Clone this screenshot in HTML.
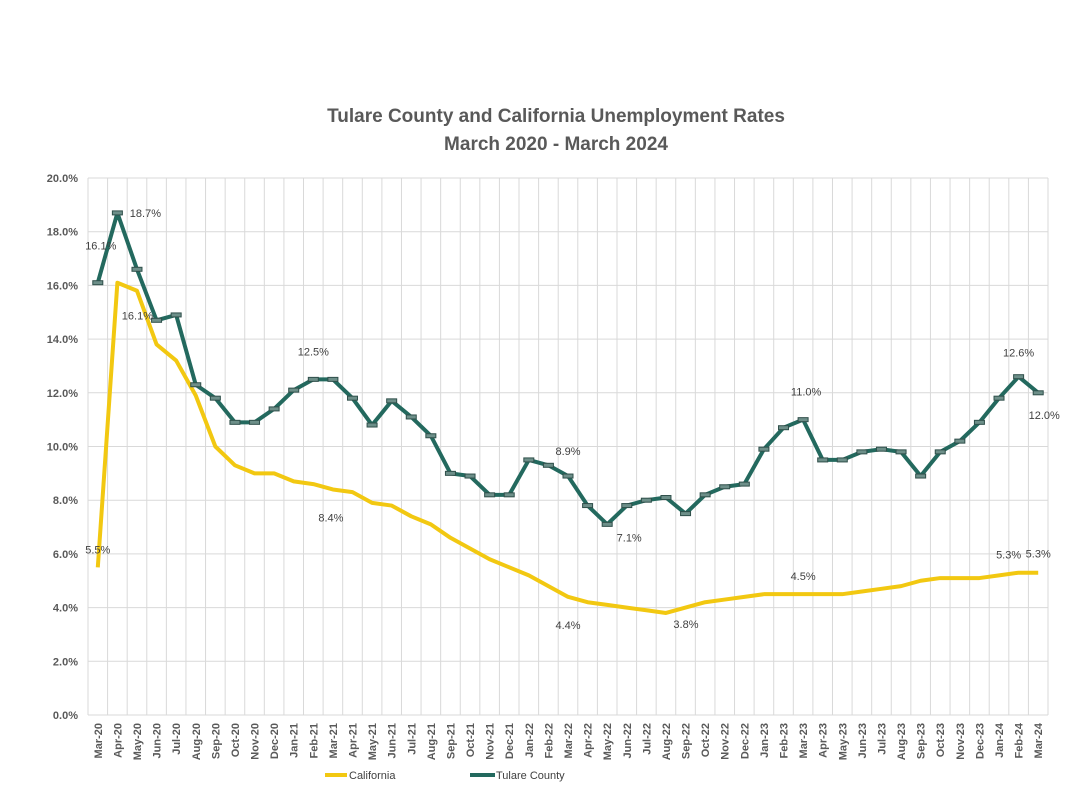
<!DOCTYPE html>
<html><head><meta charset="utf-8"><style>
body{margin:0;background:#fff;}
svg text{font-family:"Liberation Sans",sans-serif;}
</style></head><body>
<svg id="c" width="1069" height="784" xmlns="http://www.w3.org/2000/svg">
<text x="556" y="122" text-anchor="middle" font-size="19" font-weight="bold" fill="#595959">Tulare County and California Unemployment Rates</text>
<text x="556" y="150" text-anchor="middle" font-size="19" font-weight="bold" fill="#595959">March 2020 - March 2024</text>
<g id="grid"></g><g id="axes"></g><g id="series"></g><g id="labels"></g>
<g>
<line x1="325" y1="775" x2="347" y2="775" stroke="#F2C811" stroke-width="4"/>
<text x="349" y="779" font-size="11" fill="#404040">California</text>
<line x1="470" y1="775" x2="495" y2="775" stroke="#23695E" stroke-width="4"/>
<text x="496" y="779" font-size="11" fill="#404040">Tulare County</text>
</g>
</svg>
<script>
const months=["Mar-20","Apr-20","May-20","Jun-20","Jul-20","Aug-20","Sep-20","Oct-20","Nov-20","Dec-20","Jan-21","Feb-21","Mar-21","Apr-21","May-21","Jun-21","Jul-21","Aug-21","Sep-21","Oct-21","Nov-21","Dec-21","Jan-22","Feb-22","Mar-22","Apr-22","May-22","Jun-22","Jul-22","Aug-22","Sep-22","Oct-22","Nov-22","Dec-22","Jan-23","Feb-23","Mar-23","Apr-23","May-23","Jun-23","Jul-23","Aug-23","Sep-23","Oct-23","Nov-23","Dec-23","Jan-24","Feb-24","Mar-24"];
const tulare=[16.1,18.7,16.6,14.7,14.9,12.3,11.8,10.9,10.9,11.4,12.1,12.5,12.5,11.8,10.8,11.7,11.1,10.4,9.0,8.9,8.2,8.2,9.5,9.3,8.9,7.8,7.1,7.8,8.0,8.1,7.5,8.2,8.5,8.6,9.9,10.7,11.0,9.5,9.5,9.8,9.9,9.8,8.9,9.8,10.2,10.9,11.8,12.6,12.0];
const california=[5.5,16.1,15.8,13.8,13.2,11.9,10.0,9.3,9.0,9.0,8.7,8.6,8.4,8.3,7.9,7.8,7.4,7.1,6.6,6.2,5.8,5.5,5.2,4.8,4.4,4.2,4.1,4.0,3.9,3.8,4.0,4.2,4.3,4.4,4.5,4.5,4.5,4.5,4.5,4.6,4.7,4.8,5.0,5.1,5.1,5.1,5.2,5.3,5.3];
const yTicks=[0,2,4,6,8,10,12,14,16,18,20];
const tulareLabels=[0,1,11,24,26,36,47,48];
const caLabels=[0,1,12,24,29,36,47,48];
const NS="http://www.w3.org/2000/svg";
const L=88,R=1048,T=178,B=715,n=months.length,bw=(R-L)/n;
const xs=i=>L+(i+0.5)*bw, ys=v=>B-(v/20)*(B-T);
function mk(tag,a,parent){const e=document.createElementNS(NS,tag);for(const k in a)e.setAttribute(k,a[k]);document.getElementById(parent).appendChild(e);return e;}
for(let i=0;i<=n;i++){const e=mk('line',{x1:L+i*bw,x2:L+i*bw,y1:T,y2:B,stroke:'#d9d9d9','stroke-width':1},'grid');

}
yTicks.forEach(t=>{const e=mk('line',{x1:L,x2:R,y1:ys(t),y2:ys(t),stroke:'#d9d9d9','stroke-width':1},'grid');


const tx=mk('text',{x:L-10,y:ys(t)+4,'text-anchor':'end','font-size':11,'font-weight':'bold',fill:'#595959'},'axes');tx.textContent=t.toFixed(1)+'%';

});
months.forEach((m,i)=>{const tx=mk('text',{transform:`translate(${xs(i)+4},${B+8}) rotate(-90)`,'text-anchor':'end','font-size':11,'font-weight':'bold',fill:'#595959'},'axes');tx.textContent=m;

});
function pl(arr,color,name){const e=mk('polyline',{points:arr.map((v,i)=>xs(i)+','+ys(v)).join(' '),fill:'none',stroke:color,'stroke-width':4,'stroke-linejoin':'round'},'series');

}
pl(california,'#F2C811','california-line');
pl(tulare,'#23695E','tulare-line');
tulare.forEach((v,i)=>{const e=mk('rect',{x:xs(i)-5,y:ys(v)-2,width:10,height:4,fill:'#6d8f89',stroke:'#2f4f4a','stroke-width':1},'series');

});
function lab(i,v,dx,dy,name){const tx=mk('text',{x:xs(i)+dx,y:ys(v)+dy,'font-size':11,fill:'#404040','text-anchor':'middle'},'labels');tx.textContent=v.toFixed(1)+'%';

}
const tOff=[[3,-33],[28,4],[0,-24],[0,-21],[22,17],[3,-24],[0,-20],[6,26]];
tulareLabels.forEach((i,k)=>lab(i,tulare[i],tOff[k][0],tOff[k][1],'tulare-data-label'));
const cOff=[[0,-14],[20,37],[-2,32],[0,32],[20,15],[0,-14],[-10,-14],[0,-15]];
caLabels.forEach((i,k)=>lab(i,california[i],cOff[k][0],cOff[k][1],'california-data-label'));
</script>
</body></html>
